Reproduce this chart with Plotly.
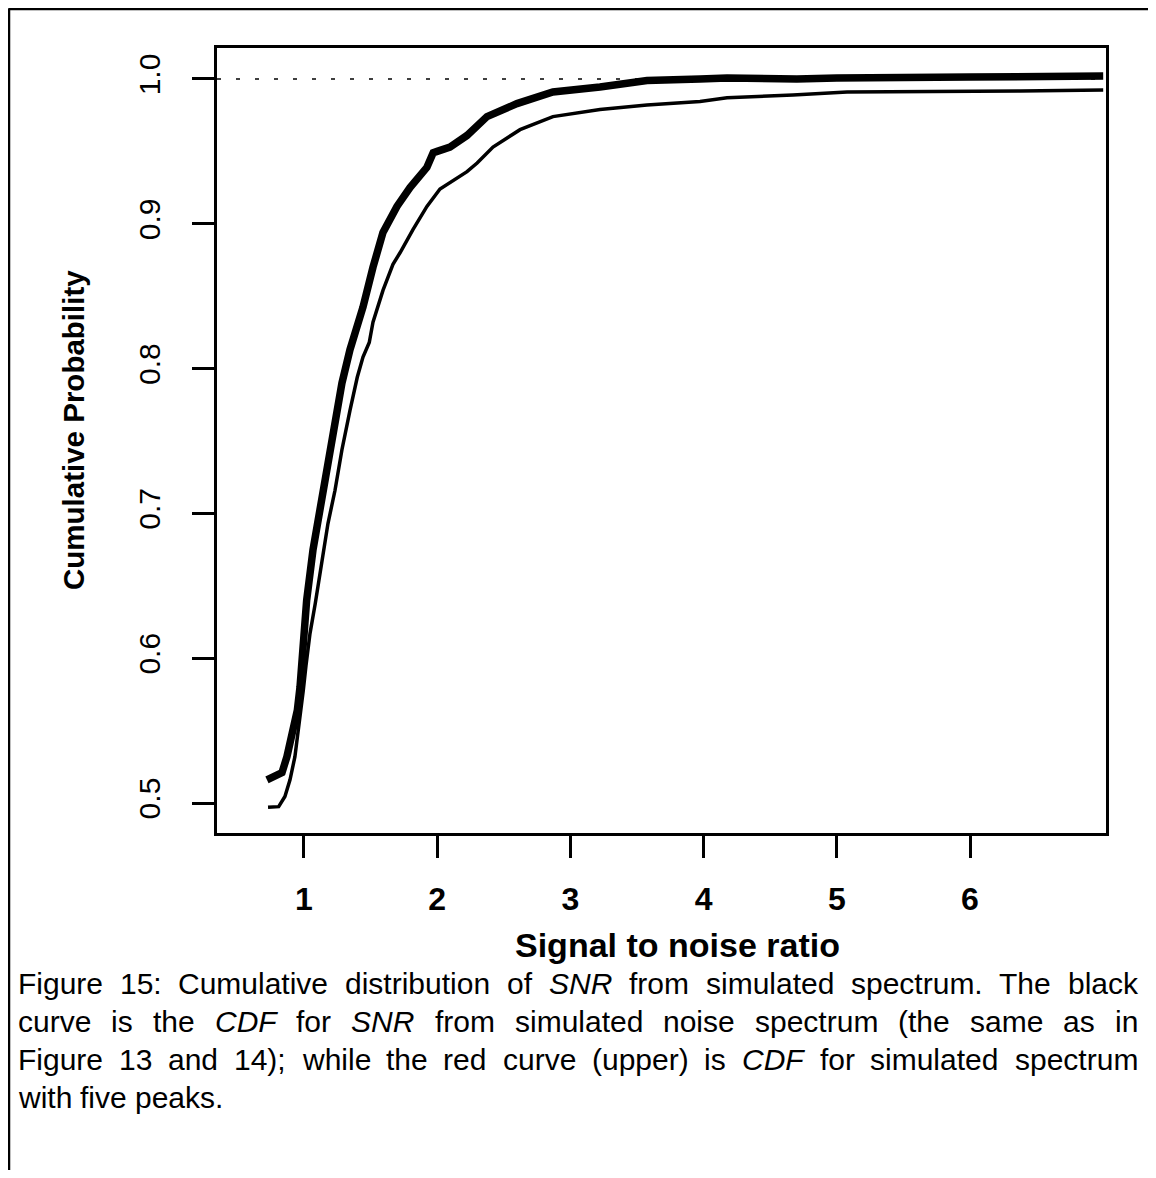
import plotly.graph_objects as go

# Upper ("red") curve: CDF of SNR for simulated spectrum with five peaks
peaks_snr = [0.722, 0.835, 0.872, 0.91, 0.95, 0.97, 0.985, 0.99, 1.008, 1.02, 1.068, 1.12, 1.158,
             1.21, 1.248, 1.285, 1.345, 1.443, 1.518, 1.593, 1.698, 1.796, 1.923, 1.97, 2.0,
             2.096, 2.224, 2.374, 2.599, 2.869, 3.222, 3.575, 3.973, 4.176, 4.7, 5.0, 6.0, 7.0]
peaks_cdf = [0.516, 0.521, 0.532, 0.548, 0.564, 0.580, 0.598, 0.617, 0.628, 0.640, 0.675, 0.702, 0.725,
             0.749, 0.767, 0.790, 0.813, 0.8425, 0.870, 0.894, 0.912, 0.925, 0.939, 0.949, 0.950,
             0.953, 0.961, 0.974, 0.983, 0.991, 0.9945, 0.999, 1.0, 1.0007, 1.0, 1.0007, 1.0014, 1.002]

# Lower (black) curve: CDF of SNR for simulated noise spectrum
noise_snr = [0.73, 0.81, 0.857, 0.895, 0.932, 0.955, 0.975, 0.995, 1.015, 1.045, 1.085, 1.135, 1.18,
             1.233, 1.285, 1.345, 1.40, 1.443, 1.49, 1.518, 1.593, 1.668, 1.721, 1.818, 1.923,
             2.021, 2.119, 2.224, 2.30, 2.419, 2.622, 2.869, 3.222, 3.575, 3.973, 4.176, 4.671,
             5.077, 6.375, 7.0]
noise_cdf = [0.497, 0.4975, 0.5045, 0.516, 0.532, 0.548, 0.562, 0.578, 0.595, 0.617, 0.638, 0.666, 0.693,
             0.716, 0.744, 0.771, 0.794, 0.808, 0.818, 0.832, 0.854, 0.872, 0.880, 0.896, 0.912,
             0.924, 0.930, 0.936, 0.942, 0.953, 0.965, 0.974, 0.979, 0.982, 0.9845, 0.987, 0.989,
             0.991, 0.9917, 0.9924]

x_ticks = [1, 2, 3, 4, 5, 6]
x_tick_labels = ["1", "2", "3", "4", "5", "6"]
y_ticks = [0.5, 0.6, 0.7, 0.8, 0.9, 1.0]
y_tick_labels = ["0.5", "0.6", "0.7", "0.8", "0.9", "1.0"]

x_title = "Signal to noise ratio"
y_title = "Cumulative Probability"
# words wrapped in *...* are italic
caption_lines = [
    "Figure 15: Cumulative distribution of *SNR* from simulated spectrum. The black",
    "curve is the *CDF* for *SNR* from simulated noise spectrum (the same as in",
    "Figure 13 and 14); while the red curve (upper) is *CDF* for simulated spectrum",
    "with five peaks.",
]
caption_justify = [True, True, True, False]

# Arial / Liberation Sans advance widths (1/1000 em)
AW = {' ': 278, '(': 333, ')': 333, ',': 278, '.': 278, ':': 278, ';': 278, '-': 333}
for d in "0123456789":
    AW[d] = 556
AW.update(dict(A=667, B=667, C=722, D=722, E=667, F=611, G=778, H=722, I=278, J=500, K=667, L=556,
               M=833, N=722, O=778, P=667, Q=778, R=722, S=667, T=611, U=722, V=667, W=944, X=667,
               Y=667, Z=611))
AW.update(dict(a=556, b=556, c=500, d=556, e=556, f=278, g=556, h=556, i=222, j=222, k=500, l=222,
               m=833, n=556, o=556, p=556, q=556, r=333, s=500, t=278, u=556, v=500, w=722, x=500,
               y=500, z=500))


def text_w(s, size):
    return sum(AW.get(ch, 556) for ch in s) * size / 1000.0


OFF = 8  # page offset of the plot div (body margin)
W, H = 1140, 1162
L, R, T, B = 209, 42, 40, 337
pw, ph = W - L - R, H - T - B


def px(xp):  # page pixel -> paper x
    return (xp - OFF - L) / pw


def py(yp):  # page pixel -> paper y
    return (H - B - (yp - OFF)) / ph


fig = go.Figure()
fig.add_hline(y=1.0, line=dict(color="black", width=1.5, dash="4px,15px"))
fig.add_trace(go.Scatter(x=noise_snr, y=noise_cdf, mode="lines",
                         line=dict(color="black", width=3.5), showlegend=False))
fig.add_trace(go.Scatter(x=peaks_snr, y=peaks_cdf, mode="lines",
                         line=dict(color="black", width=7.5), showlegend=False))

sans = "Liberation Sans, Arial"

fig.update_layout(
    width=W, height=H,
    margin=dict(l=L, r=R, t=T, b=B, pad=0),
    paper_bgcolor="white", plot_bgcolor="white",
    font=dict(family=sans, color="black"),
    xaxis=dict(range=[0.347, 7.021], tickvals=x_ticks, ticktext=x_tick_labels,
               ticks="outside", ticklen=22, tickwidth=2.5, tickcolor="black",
               tickfont=dict(size=32, family=sans, weight="bold"),
               showgrid=False, zeroline=False, showline=True, linecolor="black",
               linewidth=3, mirror=True, ticklabelstandoff=14),
    yaxis=dict(range=[0.4793, 1.0214], tickvals=y_ticks, ticktext=y_tick_labels,
               ticks="outside", ticklen=22, tickwidth=2.5, tickcolor="black",
               tickangle=-90, tickfont=dict(size=30, family=sans),
               showgrid=False, zeroline=False, showline=True, linecolor="black",
               linewidth=3, mirror=True, ticklabelstandoff=20),
)

ann = []
ann.append(dict(text=f"<b>{x_title}</b>", x=px(677), y=py(945), xref="paper", yref="paper",
                showarrow=False, xanchor="center", yanchor="middle",
                font=dict(size=34, family=sans)))
ann.append(dict(text=f"<b>{y_title}</b>", x=px(73), y=py(430), xref="paper", yref="paper",
                showarrow=False, xanchor="center", yanchor="middle", textangle=-90,
                font=dict(size=29.5, family=sans)))

CAP_SIZE = 30
CAP_LEFT, CAP_RIGHT = 18, 1138
for i, line in enumerate(caption_lines):
    words = line.split(" ")
    plain = [w.replace("*", "") for w in words]
    widths = [text_w(w, CAP_SIZE) for w in plain]
    if caption_justify[i] and len(words) > 1:
        gap = (CAP_RIGHT - CAP_LEFT - sum(widths)) / (len(words) - 1)
    else:
        gap = text_w(" ", CAP_SIZE)
    xcur = CAP_LEFT
    ycen = 983 + 38.3 * i
    for w, p, wd in zip(words, plain, widths):
        txt = f"<i>{p}</i>" if w.startswith("*") else p
        ann.append(dict(text=txt, x=px(xcur - 2), y=py(ycen), xref="paper", yref="paper",
                        showarrow=False, xanchor="left", yanchor="middle",
                        font=dict(size=CAP_SIZE, family=sans)))
        xcur += wd + gap
fig.update_layout(annotations=ann)

# outer figure border (top and left)
fig.add_shape(type="line", xref="paper", yref="paper", x0=px(8.5), x1=px(1160), y0=py(9), y1=py(9),
              line=dict(color="black", width=2.5))
fig.add_shape(type="line", xref="paper", yref="paper", x0=px(9), x1=px(9), y0=py(8.5), y1=py(1180),
              line=dict(color="black", width=2.5))

fig.write_html("out.html")
